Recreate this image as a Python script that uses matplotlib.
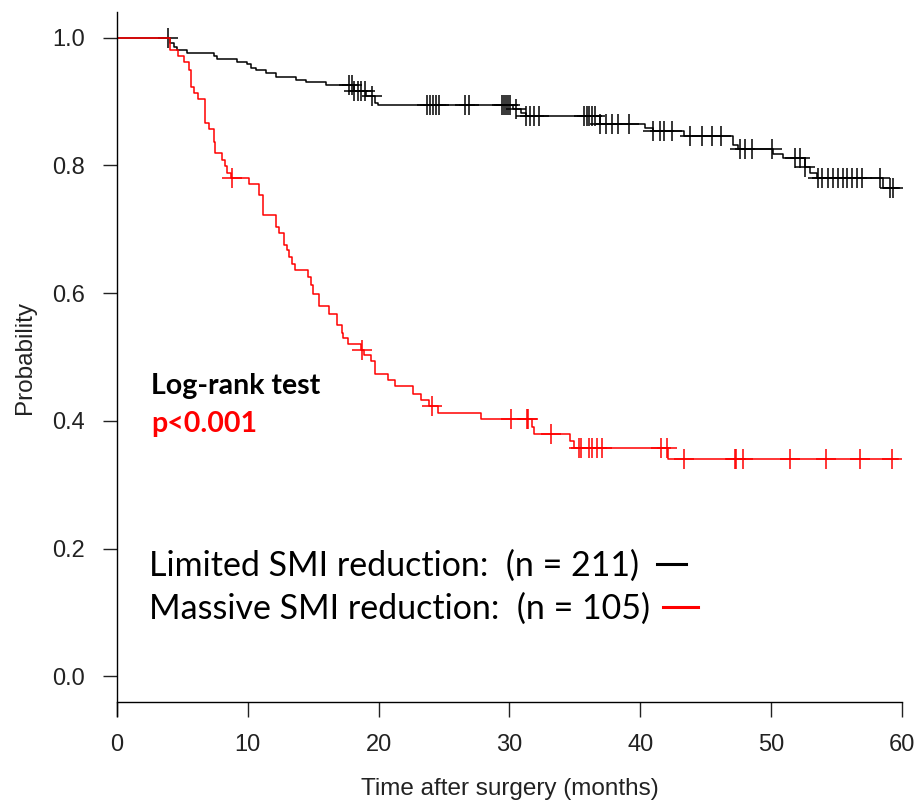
import numpy as np
import matplotlib
matplotlib.use("Agg")
import matplotlib.pyplot as plt

# ---------------------------------------------------
# Kaplan-Meier data
# ---------------------------------------------------
# Limited SMI reduction (n = 211): event times (months) and survival after each drop
limited_t = [4.06, 4.36, 4.59, 5.36, 7.42, 7.65, 9.18, 9.95, 10.25, 10.64, 11.40,
             12.17, 13.70, 14.46, 15.99, 18.14, 19.05, 19.70, 19.95, 30.24, 30.88,
             31.27, 36.88, 40.32, 40.93, 43.30, 47.05, 47.44, 50.11, 50.88, 52.56,
             52.95, 53.48, 58.53]
limited_s = [0.992, 0.986, 0.981, 0.976, 0.971, 0.967, 0.962, 0.958, 0.953, 0.949,
             0.944, 0.939, 0.934, 0.930, 0.925, 0.916, 0.908, 0.898, 0.895, 0.888,
             0.882, 0.877, 0.865, 0.859, 0.853, 0.846, 0.832, 0.826, 0.818, 0.812,
             0.798, 0.788, 0.780, 0.765]
limited_cens = [3.90, 17.75, 17.98, 18.14, 18.44, 18.67, 18.97, 19.51, 23.72, 23.95,
                24.18, 24.41, 24.64, 26.62, 26.93, 29.45, 29.61, 29.76, 29.91, 30.07,
                30.50, 31.29, 31.60, 31.91, 32.29, 35.73, 35.89, 36.04, 36.27, 36.50,
                36.88, 37.41, 37.87, 38.26, 39.17, 40.93, 41.47, 41.78, 42.39, 43.76,
                44.68, 45.45, 46.14, 47.59, 47.97, 48.51, 50.04, 51.80, 52.18, 52.56,
                53.56, 53.86, 54.32, 54.70, 55.09, 55.47, 55.78, 56.16, 56.54, 56.93,
                58.30, 59.07, 59.30]
limited_end = 59.7

# Massive SMI reduction (n = 105)
massive_t = [4.06, 4.67, 5.13, 5.51, 5.64, 5.89, 6.20, 6.73, 7.04, 7.42, 7.50,
             8.06, 8.26, 8.44, 8.70, 10.10, 10.86, 11.17, 12.14, 12.40, 12.78,
             13.03, 13.16, 13.37, 13.60, 14.61, 14.82, 15.00, 15.46, 16.17, 16.78,
             17.19, 17.29, 17.62, 18.64, 18.90, 19.41, 19.74, 20.68, 21.27, 22.59,
             23.23, 23.81, 24.56, 27.83, 31.72, 31.90, 34.63, 34.96, 42.10]
massive_s = [0.980, 0.971, 0.962, 0.950, 0.923, 0.913, 0.904, 0.866, 0.857, 0.837,
             0.819, 0.809, 0.799, 0.788, 0.780, 0.771, 0.754, 0.723, 0.703, 0.694,
             0.676, 0.667, 0.656, 0.646, 0.636, 0.626, 0.613, 0.599, 0.580, 0.568,
             0.550, 0.538, 0.529, 0.520, 0.511, 0.503, 0.493, 0.474, 0.464, 0.455,
             0.442, 0.433, 0.423, 0.413, 0.403, 0.391, 0.380, 0.368, 0.358, 0.341]
massive_cens = [8.82, 18.76, 24.04, 30.11, 31.34, 31.44, 33.18, 35.35, 35.48, 36.06,
                36.32, 36.67, 37.08, 41.59, 42.05, 43.31, 47.21, 47.34, 47.84, 51.42,
                54.22, 56.77, 59.20]
massive_end = 59.7

x_ticks = [0, 10, 20, 30, 40, 50, 60]
y_ticks = [0.0, 0.2, 0.4, 0.6, 0.8, 1.0]


def km_steps(times, surv, end):
    xs = np.concatenate([[0.0], times, [end]])
    ys = np.concatenate([[1.0], surv, [surv[-1]]])
    return xs, ys


def surv_at(times, surv, t):
    idx = np.searchsorted(np.asarray(times), np.asarray(t), side="right")
    s = np.concatenate([[1.0], surv])
    return s[idx]


# ---------------------------------------------------
# Figure
# ---------------------------------------------------
fig = plt.figure(figsize=(9.16, 8.09), dpi=100)
ax = fig.add_axes([117 / 916, 107 / 809, 785 / 916, 690 / 809])

for times, surv, end, cens, col in [
    (limited_t, limited_s, limited_end, limited_cens, "black"),
    (massive_t, massive_s, massive_end, massive_cens, "#ff0000"),
]:
    xs, ys = km_steps(times, surv, end)
    ax.step(xs, ys, where="post", color=col, lw=1.1)
    ax.plot(cens, surv_at(times, surv, cens), ls="none", marker="+",
            ms=14, mew=1.1, color=col)

ax.set_xlim(0, 60)
ax.set_ylim(-0.04, 1.04)

ax.spines["top"].set_visible(False)
ax.spines["right"].set_visible(False)
ax.spines["left"].set_bounds(-0.062, 1.04)
ax.spines["left"].set_linewidth(1.0)
ax.spines["bottom"].set_linewidth(1.0)

ax.set_xticks(x_ticks)
ax.set_yticks(y_ticks)
ax.set_yticklabels([f"{v:.1f}" for v in y_ticks])
ax.tick_params(axis="x", length=11, width=1.0, pad=12, labelsize=17, colors="#222222")
ax.tick_params(axis="y", length=10, width=1.0, pad=13, labelsize=17, colors="#222222")
for lab in ax.get_xticklabels() + ax.get_yticklabels():
    lab.set_fontfamily("Liberation Sans")

ax.set_xlabel("Time after surgery (months)", fontsize=17.5, family="Liberation Sans",
              color="#222222", labelpad=16)
ax.set_ylabel("Probability", fontsize=17.5, family="Liberation Sans",
              color="#222222", labelpad=12)

# log-rank annotation
ax.text(2.6, 0.455, "Log-rank test", fontsize=20.5, fontweight="bold",
        family="Lato", color="black", va="center")
ax.text(2.6, 0.395, "p<0.001", fontsize=20.5, fontweight="bold",
        family="Lato", color="#ff0000", va="center")

# legend as text + line samples
ax.text(2.45, 0.173, "Limited SMI reduction:  (n = 211)", fontsize=24.5,
        family="Lato", color="black", va="center")
ax.text(2.45, 0.106, "Massive SMI reduction:  (n = 105)", fontsize=24.5,
        family="Lato", color="black", va="center")
ax.plot([41.24, 43.46], [0.176, 0.176], color="black", lw=2.2)
ax.plot([41.77, 44.38], [0.108, 0.108], color="#ff0000", lw=2.2)

fig.savefig("out.png", dpi=100)
